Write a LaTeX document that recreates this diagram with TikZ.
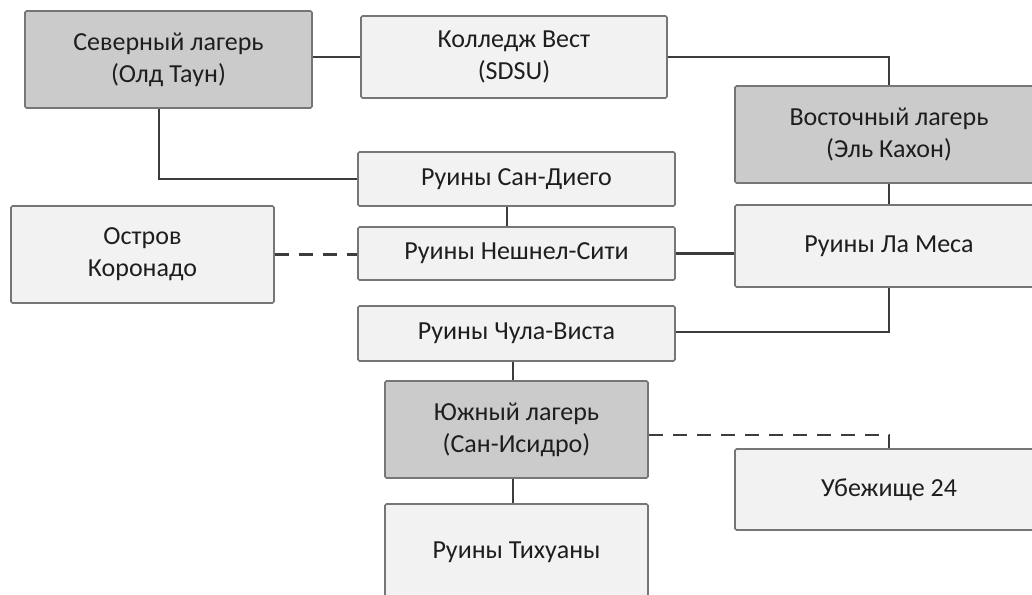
\documentclass[tikz,border=0pt]{standalone}
\usepackage{fontspec}
\setmainfont{Carlito}
\definecolor{boxline}{HTML}{767676}
\definecolor{camp}{HTML}{CBCBCB}
\definecolor{place}{HTML}{F2F2F2}
\definecolor{wire}{HTML}{3C3C3C}
\definecolor{txt}{HTML}{1E1E1E}
\begin{document}
\begin{tikzpicture}[x=1pt,y=-1pt,
  box/.style={draw=boxline, line width=1.6pt, rounded corners=1.5pt, inner sep=0pt,
    align=center, text=txt, font=\fontsize{26}{32}\selectfont},
  campbox/.style={box, fill=camp},
  placebox/.style={box, fill=place},
  link/.style={draw=wire, line width=2.4pt},
  dlink/.style={link, dash pattern=on 14pt off 10pt}]
\useasboundingbox (0,0) rectangle (1032,594);
\clip (0,0) rectangle (1032,594);
\fill[white] (0,0) rectangle (1032,594);
% nodes
\node[campbox, minimum width=287, minimum height=97] (north) at (168.5,59.5) {Северный лагерь\\(Олд Таун)};
\node[placebox, minimum width=306, minimum height=82] (college) at (514,57) {Колледж Вест\\(SDSU)};
\node[campbox, minimum width=308, minimum height=97] (east) at (889,134.5) {Восточный лагерь\\(Эль Кахон)};
\node[placebox, minimum width=317, minimum height=54] (sandiego) at (516.5,179) {Руины Сан-Диего};
\node[placebox, minimum width=263, minimum height=97] (coronado) at (142.5,254.5) {Остров\\Коронадо};
\node[placebox, minimum width=317, minimum height=53] (national) at (516.5,253.5) {Руины Нешнел-Сити};
\node[placebox, minimum width=308, minimum height=82] (lamesa) at (889,246) {Руины Ла Меса};
\node[placebox, minimum width=317, minimum height=55] (chula) at (516.5,333.5) {Руины Чула-Виста};
\node[campbox, minimum width=263, minimum height=97] (south) at (516.5,429.5) {Южный лагерь\\(Сан-Исидро)};
\node[placebox, minimum width=308, minimum height=81] (vault) at (889,489.5) {Убежище 24};
\node[placebox, minimum width=263, minimum height=97] (tijuana) at (516.5,552.5) {Руины Тихуаны};
% connectors
\draw[link] (college.west -| north.east) -- (college.west);
\draw[link] (college.east) -| (east.north);
\draw[link] ([xshift=-9.5pt]north.south) |- (sandiego.west);
\draw[link] ([xshift=-9.5pt]sandiego.south) -- ([xshift=-9.5pt]national.north);
\draw[dlink] (coronado.east) -- (coronado.east -| national.west);
\draw[link] (national.east) -- (national.east -| lamesa.west);
\draw[link] (east.south) -- (lamesa.north);
\draw[link] (lamesa.south) |- ([yshift=1.5pt]chula.east);
\draw[link] ([xshift=-3.5pt]chula.south) -- ([xshift=-3.5pt]south.north);
\draw[dlink] ([yshift=-5.5pt]south.east) -| (vault.north);
\draw[link] ([xshift=-3.5pt]south.south) -- ([xshift=-3.5pt]tijuana.north);
\end{tikzpicture}
\end{document}
